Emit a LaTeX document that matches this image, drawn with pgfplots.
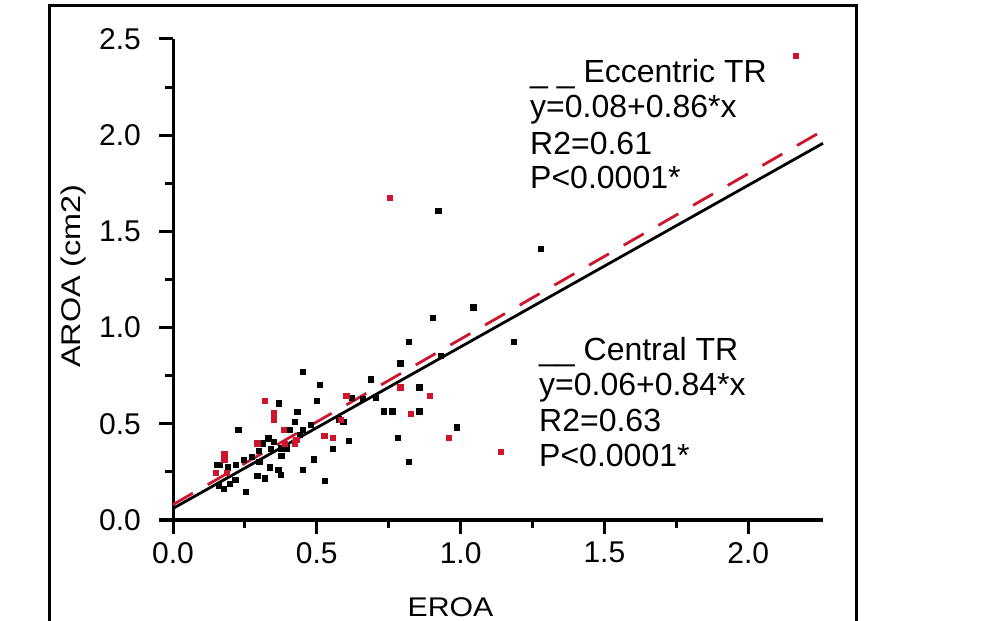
\documentclass[border=0pt]{standalone}
\usepackage{fontspec}
\setmainfont{Liberation Sans}
\usepackage{pgfplots}
\usepackage{pgfplotstable}
\pgfplotsset{compat=1.18}
\definecolor{ecc}{RGB}{205,22,45}

% central TR (black)
\pgfplotstableread{
x y
0.452 0.771
0.509 0.704
0.367 0.607
0.432 0.563
0.499 0.620
0.227 0.468
0.404 0.468
0.451 0.468
0.423 0.510
0.480 0.496
0.441 0.442
0.331 0.425
0.349 0.407
0.312 0.399
0.340 0.371
0.375 0.373
0.395 0.373
0.376 0.333
0.273 0.329
0.245 0.312
0.300 0.303
0.153 0.286
0.163 0.286
0.189 0.274
0.217 0.288
0.293 0.230
0.320 0.217
0.216 0.208
0.198 0.187
0.160 0.177
0.177 0.163
0.254 0.147
0.337 0.274
0.366 0.260
0.375 0.234
0.297 0.360
0.575 0.524
0.592 0.510
0.612 0.412
0.555 0.371
0.489 0.316
0.452 0.260
0.527 0.204
0.621 0.634
0.659 0.631
0.706 0.634
0.687 0.732
0.790 0.815
0.819 0.926
0.932 0.856
0.856 0.690
0.733 0.565
0.762 0.565
0.856 0.565
0.987 0.482
0.781 0.426
0.819 0.302
0.904 1.052
1.044 1.106
1.184 0.926
0.922 1.607
1.279 1.411
}\central

% eccentric TR (red)
\pgfplotstableread{
x y
2.165 2.413
0.753 1.676
0.320 0.620
0.349 0.555
0.349 0.524
0.386 0.468
0.293 0.399
0.387 0.395
0.424 0.399
0.428 0.416
0.178 0.343
0.178 0.316
0.149 0.246
0.187 0.246
0.602 0.648
0.584 0.522
0.526 0.440
0.555 0.426
0.790 0.690
0.893 0.648
0.827 0.551
0.959 0.426
1.139 0.357
}\eccentric

\newcommand{\ann}{\fontsize{32bp}{38bp}\selectfont}

\begin{document}
\begin{tikzpicture}
\path[use as bounding box] (0,0) rectangle (992bp,621bp);
\draw[line width=3bp] (49bp,-5bp) -- (49bp,615bp) -- (856bp,615bp) -- (856bp,-5bp);
\begin{axis}[
  at={(173bp,101bp)}, anchor=south west,
  scale only axis, width=650bp, height=481bp,
  xmin=0, xmax=2.26, ymin=0, ymax=2.5,
  axis x line*=bottom, axis y line*=left,
  axis line style={line width=3bp, -},
  every outer x axis line/.append style={line width=3bp},
  every outer y axis line/.append style={line width=3bp},
  xtick={0,0.5,1,1.5,2}, ytick={0,0.5,1,1.5,2,2.5},
  minor tick num=1,
  tick align=outside,
  major tick length=14bp, minor tick length=8bp,
  major tick style={line width=3bp, black},
  minor tick style={line width=3bp, black},
  ticklabel style={font=\fontsize{30bp}{36bp}\selectfont},
  xticklabel style={inner sep=0pt, anchor=north, yshift=-8bp},
  yticklabel style={inner sep=0pt, anchor=east, xshift=-18bp},
  /pgf/number format/fixed,
  /pgf/number format/fixed zerofill,
  /pgf/number format/precision=1,
  /pgf/number format/assume math mode=true,
  clip=false,
]
\addplot[only marks, mark=square*, mark size=2.6bp, black] table {\central};
\addplot[only marks, mark=square*, mark size=2.6bp, ecc, mark options={draw=ecc, fill=ecc}] table {\eccentric};
\addplot[black, line width=2.8bp] coordinates {(0,0.06)(2.26,1.958)};
\addplot[ecc, line width=2.8bp, dash pattern=on 23bp off 17bp] coordinates {(0,0.08)(2.26,2.024)};
\end{axis}
\node[anchor=base, inner sep=0pt, font=\fontsize{27bp}{32bp}\selectfont, xscale=1.12] at (450.5bp,5bp) {EROA};
\node[anchor=base, inner sep=0pt, font=\fontsize{27bp}{32bp}\selectfont, rotate=90, xscale=1.2] at (80bp,345bp) {AROA (cm2)};
\node[anchor=base west, inner sep=0pt, font=\ann] at (530bp,538bp) {\_ \_ Eccentric TR};
\node[anchor=base west, inner sep=0pt, font=\ann] at (530bp,503bp) {y=0.08+0.86*x};
\node[anchor=base west, inner sep=0pt, font=\ann] at (530bp,466bp) {R2=0.61};
\node[anchor=base west, inner sep=0pt, font=\ann] at (530bp,432bp) {P<0.0001*};
\node[anchor=base west, inner sep=0pt, font=\ann] at (539bp,260bp) {\_\_ Central TR};
\node[anchor=base west, inner sep=0pt, font=\ann] at (539bp,225bp) {y=0.06+0.84*x};
\node[anchor=base west, inner sep=0pt, font=\ann] at (539bp,189bp) {R2=0.63};
\node[anchor=base west, inner sep=0pt, font=\ann] at (539bp,154bp) {P<0.0001*};
\end{tikzpicture}
\end{document}
